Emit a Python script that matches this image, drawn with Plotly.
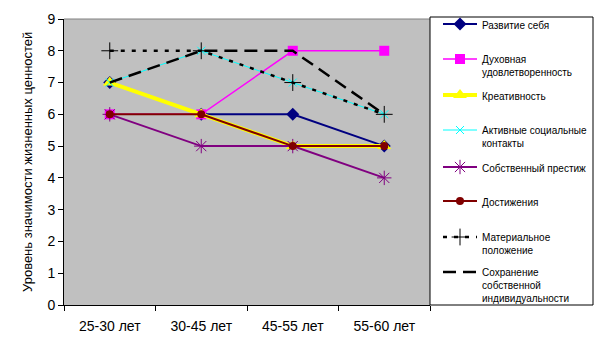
import plotly.graph_objects as go

# Age groups and the eight value series (score per group)
categories = ["25-30 лет", "30-45 лет", "45-55 лет", "55-60 лет"]
razvitie = [7, 6, 6, 5]
dukhovnaya = [6, 6, 8, 8]
kreativnost = [7, 6, 5, 5]
aktivnye = [7, 8, 7, 6]
prestizh = [6, 5, 5, 4]
dostizheniya = [6, 6, 5, 5]
materialnoe = [8, 8, 7, 6]
sokhranenie = [7, 8, 8, 6]

y_ticks = [0, 1, 2, 3, 4, 5, 6, 7, 8, 9]

W, H = 601, 347
ML, MR, MT, MB = 64, 171, 19, 42
PW, PH = W - ML - MR, H - MT - MB


def px_x(px):
    return (px - ML) / PW


def px_y(py):
    return (H - MB - py) / PH


series = [
    dict(name="Развитие себя", y=razvitie, color="#000080", width=2, dash="solid",
         symbol="diamond", size=10, mlw=0),
    dict(name="Духовная<br>удовлетворенность", y=dukhovnaya, color="#FF00FF", width=1.5,
         dash="solid", symbol="square", size=10, mlw=0),
    dict(name="Креативность", y=kreativnost, color="#FFFF00", width=4, dash="solid",
         symbol="triangle-up", size=12, mlw=0),
    dict(name="Активные социальные<br>контакты", y=aktivnye, color="#00FFFF", width=1,
         dash="solid", symbol="x-thin-open", size=8, mlw=1),
    dict(name="Собственный престиж", y=prestizh, color="#800080", width=2, dash="solid",
         symbol="asterisk-open", size=12, mlw=1),
    dict(name="Достижения", y=dostizheniya, color="#800000", width=2, dash="solid",
         symbol="circle", size=8, mlw=0),
    dict(name="Материальное<br>положение", y=materialnoe, color="#000000", width=2.5,
         dash="4px,7px", symbol="cross-thin-open", size=12, mlw=1),
    dict(name="Сохранение<br>собственной<br>индивидуальности", y=sokhranenie, color="#000000",
         width=2.5, dash="13px,7px", symbol=None, size=0, mlw=0),
]

# vertical pixel position of each legend entry's first line
legend_rows = [25, 60, 96, 131, 168, 202, 238, 273]

fig = go.Figure()
layout_legends = {}
for i, s in enumerate(series):
    key = "legend" if i == 0 else f"legend{i + 1}"
    mode = "lines+markers" if s["symbol"] else "lines"
    marker = dict(symbol=s["symbol"], size=s["size"], color=s["color"],
                  line=dict(color=s["color"], width=s["mlw"])) if s["symbol"] else None
    fig.add_trace(go.Scatter(
        x=categories, y=s["y"], name=s["name"], mode=mode,
        line=dict(color=s["color"], width=s["width"], dash=s["dash"]),
        marker=marker, legend=key, showlegend=True,
    ))
    layout_legends[key] = dict(
        x=px_x(438), xanchor="left",
        y=px_y(legend_rows[i] - 14), yanchor="top",
        bgcolor="rgba(0,0,0,0)", borderwidth=0,
        font=dict(family="Arial", size=10, color="#000000"),
        itemwidth=34, valign="top", tracegroupgap=0,
    )

fig.update_layout(
    width=W, height=H,
    margin=dict(l=ML, r=MR, t=MT, b=MB, autoexpand=False),
    paper_bgcolor="#FFFFFF",
    plot_bgcolor="#C0C0C0",
    font=dict(family="Arial", color="#000000"),
    showlegend=True,
    **layout_legends,
)

fig.update_xaxes(
    type="category", range=[-0.5, 3.5], tickson="boundaries",
    ticks="outside", ticklen=5, tickcolor="#000000", tickwidth=1,
    showline=True, linecolor="#000000", linewidth=1,
    showgrid=False, zeroline=False, ticklabelstandoff=8,
    tickfont=dict(family="Arial", size=14, color="#000000"),
)
fig.update_yaxes(
    range=[0, 9], tickvals=y_ticks,
    ticks="outside", ticklen=5, tickcolor="#000000", tickwidth=1,
    showline=True, linecolor="#000000", linewidth=1,
    showgrid=False, zeroline=False,
    tickfont=dict(family="Arial", size=14, color="#000000"),
)

# grey top edge of the plot area and the framed legend box
fig.add_shape(type="line", xref="paper", yref="paper", x0=0, x1=1, y0=1, y1=1,
              line=dict(color="#808080", width=1))
fig.add_shape(type="rect", xref="paper", yref="paper",
              x0=px_x(430), x1=px_x(593), y0=px_y(305), y1=px_y(17),
              line=dict(color="#000000", width=1), fillcolor="rgba(0,0,0,0)")

fig.add_annotation(
    text="Уровень значимости жизненных ценностей",
    xref="paper", yref="paper", x=px_x(27), y=0.5,
    xanchor="center", yanchor="middle", textangle=-90, showarrow=False,
    font=dict(family="Arial", size=13, color="#000000"),
)

fig.write_html("out.html")
